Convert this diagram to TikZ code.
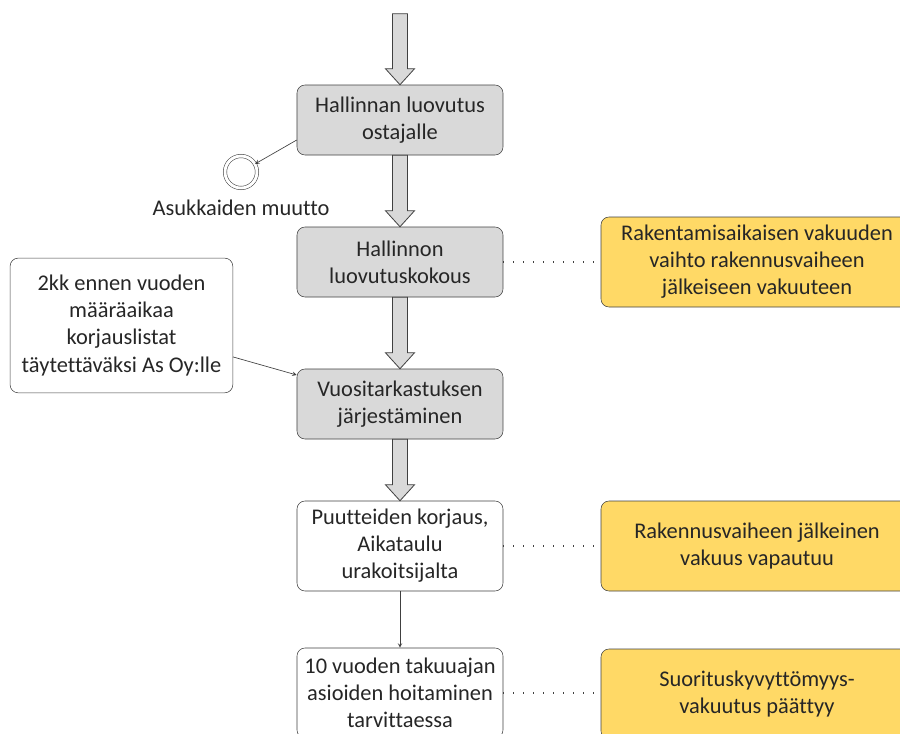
\documentclass[tikz,border=0pt]{standalone}
\usepackage{fontspec}
\setmainfont{Carlito}[Ligatures=NoCommon]
\usetikzlibrary{positioning,calc,arrows.meta,shapes}
\usepackage{xcolor}
\definecolor{boxgray}{HTML}{D9D9D9}
\definecolor{boxyellow}{HTML}{FFD966}
\definecolor{linegray}{HTML}{404040}
\definecolor{textgray}{HTML}{262626}

% fat arrow between two anchors
\newcommand{\bigarrow}[2]{\draw[bigarrow] let \p1=(#1), \p2=(#2) in
	(\x1-5.6pt,\y1) -- (\x1+5.6pt,\y1) -- (\x1+5.6pt,\y2+12pt) -- (\x1+10.9pt,\y2+12pt)
	-- (\x1,\y2) -- (\x1-10.9pt,\y2+12pt) -- (\x1-5.6pt,\y2+12pt) -- cycle;}

\begin{document}
\begin{tikzpicture}[node distance=106.5pt,font=\fontsize{16.8}{20.3}\selectfont,text=textgray]
		% 样式
		\tikzstyle{phase} = [rectangle, rounded corners=6pt, draw=linegray, fill=boxgray, minimum width=154.5pt, minimum height=52.5pt, align=center]
		\tikzstyle{task} = [rectangle, rounded corners=6pt, draw=linegray, fill=white, minimum width=154.5pt, minimum height=67.5pt, align=center]
		\tikzstyle{insure} = [rectangle, rounded corners=6pt, draw=linegray, fill=boxyellow, minimum width=234pt, minimum height=67.5pt, align=center]
		\tikzstyle{note} = [rectangle, rounded corners=6pt, draw=linegray, fill=white, minimum width=167pt, minimum height=101pt, align=center]
		\tikzstyle{finish} = [circle, draw=linegray, double, double distance=2.2pt, minimum size=24pt, inner sep=0pt]
		\tikzstyle{bigarrow} = [draw=linegray, fill=boxgray, line width=0.6pt]
		\tikzstyle{arrow} = [linegray, line width=0.5pt, ->, >=stealth]
		\tikzstyle{link} = [linegray, line width=0.8pt, dash pattern=on 0.8pt off 6.7pt]
		\useasboundingbox (-300pt,90pt) rectangle (375pt,-459.75pt);
		\node (pro1) [phase] at (0,0) {Hallinnan luovutus\\ostajalle};
		\node (pro2) [phase, below of=pro1] {Hallinnon\\luovutuskokous};
		\node (pro3) [phase, below of=pro2] {Vuositarkastuksen\\järjestäminen};
		\node (pro4) [task, below of=pro3] {Puutteiden korjaus,\\Aikataulu\\urakoitsijalta};
		\node (pro5) [task, below of=pro4, yshift=-3.75pt] {10 vuoden takuuajan\\asioiden hoitaminen\\tarvittaessa};
		\node (stop) [finish, left of=pro1, xshift=-12.75pt, yshift=-39pt] {};
		\node (move) [below=5pt of stop] {Asukkaiden muutto};
		\node (list) [note, left of=pro3, xshift=-102.4pt, yshift=58.9pt] {2kk ennen vuoden\\määräaikaa\\korjauslistat\\täytettäväksi As Oy:lle};
		\node (ins1) [insure, right of=pro2, xshift=161.25pt] {Rakentamisaikaisen vakuuden\\vaihto rakennusvaiheen\\jälkeiseen vakuuteen};
		\node (ins2) [insure, right of=pro4, xshift=161.25pt] {Rakennusvaiheen jälkeinen\\vakuus vapautuu};
		\node (ins3) [insure, right of=pro5, xshift=161.25pt, yshift=-0.75pt] {Suorituskyvyttömyys-\\vakuutus päättyy};
		\coordinate (top) at ([yshift=53.25pt]pro1.north);

		% 连接
		\bigarrow{top}{pro1.north}
		\bigarrow{pro1.south}{pro2.north}
		\bigarrow{pro2.south}{pro3.north}
		\bigarrow{pro3.south}{pro4.north}
		\draw [arrow] ([yshift=-15pt]pro1.west) -- (stop);
		\draw [arrow] ([yshift=-23.6pt]list.east) -- ([yshift=21.75pt]pro3.west);
		\draw [arrow] (pro4) -- (pro5);
		\draw [link] (pro2.east) -- (ins1.west);
		\draw [link] (pro4.east) -- (ins2.west);
		\draw [link] (pro5.east) -- (ins3.west |- pro5.east);
	\end{tikzpicture}
\end{document}
